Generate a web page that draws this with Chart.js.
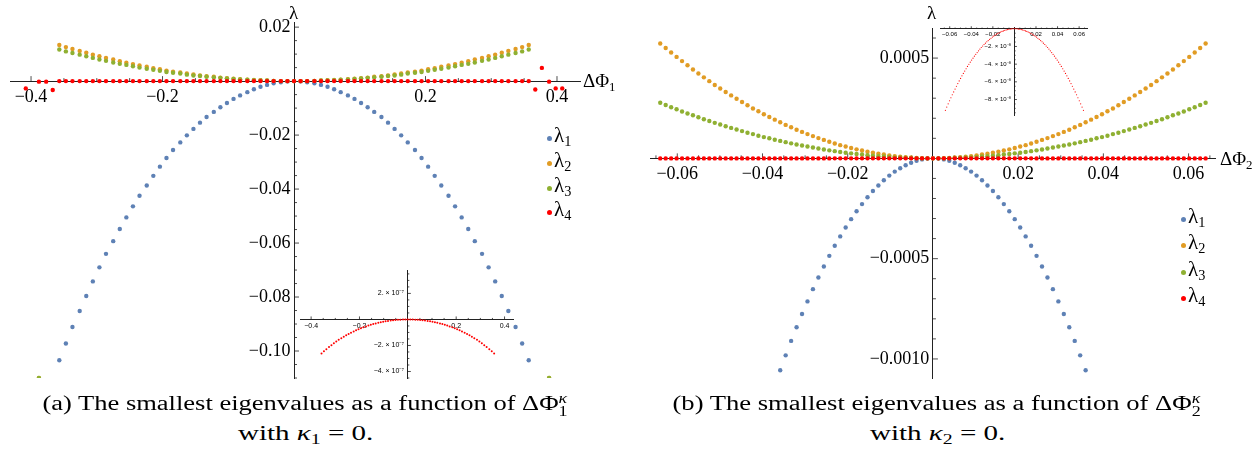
<!DOCTYPE html>
<html>
<head>
<meta charset="utf-8">
<script src="https://cdn.jsdelivr.net/npm/chart.js@4.4.1/dist/chart.umd.min.js"></script>
<style>
body { margin: 0; background: #fff; }
#wrap { position: relative; width: 1258px; height: 456px; overflow: hidden; font-family: "Liberation Serif", "Times New Roman", Times, "Nimbus Roman", Tinos, serif; color: #000; }
canvas { position: absolute; }
.lbl { position: absolute; font-size: 19px; line-height: 1; white-space: nowrap; }
.lbl sub, .leg sub, .cap sub { font-size: 0.68em; vertical-align: -0.3em; line-height: 0; }
.leg { position: absolute; font-size: 21px; line-height: 1; white-space: nowrap; }
.dot { position: absolute; width: 5px; height: 5px; border-radius: 50%; }
.cap { position: absolute; font-size: 20px; line-height: 1; white-space: nowrap; transform-origin: center; }
.ss { display: inline-block; vertical-align: -0.42em; font-size: 0.68em; line-height: 0.95; }
.ss span { display: block; }
</style>
</head>
<body>
<div id="wrap">
  <canvas id="cA" width="620" height="392" style="left:0;top:0"></canvas>
  <canvas id="cB" width="628" height="392" style="left:630px;top:0"></canvas>
  <canvas id="iA" width="270" height="130" style="left:260px;top:255px"></canvas>
  <canvas id="iB" width="200" height="110" style="left:900px;top:15px"></canvas>
  <div class="lbl" style="left:289px;top:3px">λ</div>
  <div class="lbl" style="left:583px;top:71px">ΔΦ<sub>1</sub></div>
  <div class="lbl" style="left:927px;top:3px">λ</div>
  <div class="lbl" style="left:1220px;top:149px">ΔΦ<sub>2</sub></div>
</div>
<script>
// eigenvalues, panel (a): step in ΔΦ1, from -0.408 to 0.408
const xA = [-0.408,-0.398,-0.388,-0.377,-0.367,-0.357,-0.347,-0.337,-0.326,-0.316,-0.306,-0.296,-0.286,-0.275,-0.265,-0.255,-0.245,-0.235,-0.224,-0.214,-0.204,-0.194,-0.184,-0.173,-0.163,-0.153,-0.143,-0.133,-0.122,-0.112,-0.102,-0.092,-0.082,-0.071,-0.061,-0.051,-0.041,-0.031,-0.020,-0.010,
  0,
  0.010,0.020,0.031,0.041,0.051,0.061,0.071,0.082,0.092,0.102,0.112,0.122,0.133,0.143,0.153,0.163,0.173,0.184,0.194,0.204,0.214,0.224,0.235,0.245,0.255,0.265,0.275,0.286,0.296,0.306,0.316,0.326,0.337,0.347,0.357,0.367,0.377,0.388,0.398,0.408];

const lam1A = [null,null,null,null,null,
  -0.1034,-0.0972,-0.0911,-0.0852,-0.0796,-0.0742,-0.0690,-0.0640,-0.0593,-0.0548,-0.0505,-0.0464,-0.0425,-0.0387,-0.0351,-0.0317,-0.0285,-0.0255,-0.0227,-0.0201,-0.0177,-0.0154,-0.0133,-0.0114,-0.0097,-0.0081,-0.0066,-0.0053,-0.0041,-0.0030,-0.0021,-0.0014,-0.0008,-0.0004,-0.0001,
  0,
  -0.0001,-0.0004,-0.0008,-0.0014,-0.0021,-0.0030,-0.0041,-0.0053,-0.0066,-0.0081,-0.0097,-0.0114,-0.0133,-0.0154,-0.0177,-0.0201,-0.0227,-0.0255,-0.0285,-0.0317,-0.0351,-0.0387,-0.0425,-0.0464,-0.0505,-0.0548,-0.0593,-0.0640,-0.0690,-0.0742,-0.0796,-0.0852,-0.0911,-0.0972,-0.1034,
  null,null,null,null,null];

const lam2A = [null,null,-0.110,null,null,
  0.0134,0.0126,0.0119,0.0112,0.0105,0.0098,0.0092,0.0086,0.0080,0.0074,0.0068,0.0063,0.0058,0.0053,0.0048,0.0044,0.0039,0.0035,0.0032,0.0028,0.0025,0.0021,0.0018,0.0016,0.0013,0.0011,0.0009,0.0007,0.0005,0.0004,0.0003,0.0002,0.0001,0,0,
  0,
  0,0,0.0001,0.0002,0.0003,0.0004,0.0005,0.0007,0.0009,0.0011,0.0013,0.0016,0.0018,0.0021,0.0025,0.0028,0.0032,0.0035,0.0039,0.0044,0.0048,0.0053,0.0058,0.0063,0.0068,0.0074,0.0080,0.0086,0.0092,0.0098,0.0105,0.0112,0.0119,0.0126,0.0134,
  null,null,-0.110,null,null];

const lam3A = [null,null,-0.110,null,null,
  0.0117,0.0110,0.0104,0.0098,0.0092,0.0086,0.0080,0.0075,0.0069,0.0064,0.0060,0.0055,0.0050,0.0046,0.0042,0.0038,0.0034,0.0031,0.0028,0.0024,0.0021,0.0019,0.0016,0.0014,0.0012,0.0010,0.0008,0.0006,0.0005,0.0003,0.0002,0.0002,0.0001,0,0,
  0,
  0,0,0.0001,0.0002,0.0002,0.0003,0.0005,0.0006,0.0008,0.0010,0.0012,0.0014,0.0016,0.0019,0.0021,0.0024,0.0028,0.0031,0.0034,0.0038,0.0042,0.0046,0.0050,0.0055,0.0060,0.0064,0.0069,0.0075,0.0080,0.0086,0.0092,0.0098,0.0104,0.0110,0.0117,
  null,null,-0.110,null,null];

const lam4A = [-0.0027,null,-0.0002,-0.0002,-0.0033,
  -2.62e-7,-2.447e-7,-2.282e-7,-2.125e-7,-1.976e-7,-1.833e-7,-1.697e-7,-1.568e-7,-1.446e-7,-1.329e-7,-1.219e-7,-1.115e-7,-1.016e-7,-9.23e-8,-8.35e-8,-7.52e-8,-6.74e-8,-6.02e-8,-5.33e-8,-4.70e-8,-4.11e-8,-3.56e-8,-3.06e-8,-2.59e-8,-2.17e-8,-1.79e-8,-1.44e-8,-1.14e-8,-8.7e-9,-6.4e-9,-4.4e-9,-2.8e-9,-1.6e-9,-7e-10,-2e-10,
  0,
  -2e-10,-7e-10,-1.6e-9,-2.8e-9,-4.4e-9,-6.4e-9,-8.7e-9,-1.14e-8,-1.44e-8,-1.79e-8,-2.17e-8,-2.59e-8,-3.06e-8,-3.56e-8,-4.11e-8,-4.70e-8,-5.33e-8,-6.02e-8,-6.74e-8,-7.52e-8,-8.35e-8,-9.23e-8,-1.016e-7,-1.115e-7,-1.219e-7,-1.329e-7,-1.446e-7,-1.568e-7,-1.697e-7,-1.833e-7,-1.976e-7,-2.125e-7,-2.282e-7,-2.447e-7,-2.62e-7,
  -0.0031,0.0049,-0.0002,-0.0027,-0.0027];

// eigenvalues, panel (b)
const xB = [-0.064,-0.06272,-0.06144,-0.06016,-0.05888,-0.0576,-0.05632,-0.05504,-0.05376,-0.05248,-0.0512,-0.04992,-0.04864,-0.04736,-0.04608,-0.0448,-0.04352,-0.04224,-0.04096,-0.03968,-0.0384,-0.03712,-0.03584,-0.03456,-0.03328,-0.032,-0.03072,-0.02944,-0.02816,-0.02688,-0.0256,-0.02432,-0.02304,-0.02176,-0.02048,-0.0192,-0.01792,-0.01664,-0.01536,-0.01408,-0.0128,-0.01152,-0.01024,-0.00896,-0.00768,-0.0064,-0.00512,-0.00384,-0.00256,-0.00128,
  0,
  0.00128,0.00256,0.00384,0.00512,0.0064,0.00768,0.00896,0.01024,0.01152,0.0128,0.01408,0.01536,0.01664,0.01792,0.0192,0.02048,0.02176,0.02304,0.02432,0.0256,0.02688,0.02816,0.02944,0.03072,0.032,0.03328,0.03456,0.03584,0.03712,0.0384,0.03968,0.04096,0.04224,0.04352,0.0448,0.04608,0.04736,0.04864,0.04992,0.0512,0.05248,0.05376,0.05504,0.05632,0.0576,0.05888,0.06016,0.06144,0.06272,0.064];

const lam1B = [null,null,null,null,null,null,null,null,null,null,null,
  null,null,null,null,null,null,null,null,null,null,null,
  -1.056e-3,-9.82e-4,-9.10e-4,-8.42e-4,-7.76e-4,-7.13e-4,-6.52e-4,-5.94e-4,-5.39e-4,-4.86e-4,-4.36e-4,-3.89e-4,-3.45e-4,-3.03e-4,-2.64e-4,-2.28e-4,-1.94e-4,-1.63e-4,-1.35e-4,-1.09e-4,-8.6e-5,-6.6e-5,-4.9e-5,-3.4e-5,-2.2e-5,-1.2e-5,-5e-6,-1e-6,
  0,
  -1e-6,-5e-6,-1.2e-5,-2.2e-5,-3.4e-5,-4.9e-5,-6.6e-5,-8.6e-5,-1.09e-4,-1.35e-4,-1.63e-4,-1.94e-4,-2.28e-4,-2.64e-4,-3.03e-4,-3.45e-4,-3.89e-4,-4.36e-4,-4.86e-4,-5.39e-4,-5.94e-4,-6.52e-4,-7.13e-4,-7.76e-4,-8.42e-4,-9.10e-4,-9.82e-4,-1.056e-3,
  null,null,null,null,null,null,null,null,null,null,null,
  null,null,null,null,null,null,null,null,null,null,null];

const lam2B = [5.73e-4,5.50e-4,5.28e-4,5.06e-4,4.85e-4,4.64e-4,4.43e-4,4.23e-4,4.04e-4,3.85e-4,3.66e-4,3.48e-4,3.31e-4,3.14e-4,2.97e-4,2.81e-4,2.65e-4,2.49e-4,2.35e-4,2.20e-4,2.06e-4,1.93e-4,1.80e-4,1.67e-4,1.55e-4,1.43e-4,1.32e-4,1.21e-4,1.11e-4,1.01e-4,9.2e-5,8.3e-5,7.4e-5,6.6e-5,5.9e-5,5.2e-5,4.5e-5,3.9e-5,3.3e-5,2.8e-5,2.3e-5,1.9e-5,1.5e-5,1.1e-5,8e-6,6e-6,4e-6,2e-6,1e-6,0,
  0,
  0,1e-6,2e-6,4e-6,6e-6,8e-6,1.1e-5,1.5e-5,1.9e-5,2.3e-5,2.8e-5,3.3e-5,3.9e-5,4.5e-5,5.2e-5,5.9e-5,6.6e-5,7.4e-5,8.3e-5,9.2e-5,1.01e-4,1.11e-4,1.21e-4,1.32e-4,1.43e-4,1.55e-4,1.67e-4,1.80e-4,1.93e-4,2.06e-4,2.20e-4,2.35e-4,2.49e-4,2.65e-4,2.81e-4,2.97e-4,3.14e-4,3.31e-4,3.48e-4,3.66e-4,3.85e-4,4.04e-4,4.23e-4,4.43e-4,4.64e-4,4.85e-4,5.06e-4,5.28e-4,5.50e-4,5.73e-4];

const lam3B = [2.77e-4,2.66e-4,2.55e-4,2.45e-4,2.34e-4,2.24e-4,2.15e-4,2.05e-4,1.95e-4,1.86e-4,1.77e-4,1.69e-4,1.60e-4,1.52e-4,1.44e-4,1.36e-4,1.28e-4,1.21e-4,1.13e-4,1.06e-4,1.00e-4,9.3e-5,8.7e-5,8.1e-5,7.5e-5,6.9e-5,6.4e-5,5.9e-5,5.4e-5,4.9e-5,4.4e-5,4.0e-5,3.6e-5,3.2e-5,2.8e-5,2.5e-5,2.2e-5,1.9e-5,1.6e-5,1.3e-5,1.1e-5,9e-6,7e-6,5e-6,4e-6,3e-6,2e-6,1e-6,0,0,
  0,
  0,0,1e-6,2e-6,3e-6,4e-6,5e-6,7e-6,9e-6,1.1e-5,1.3e-5,1.6e-5,1.9e-5,2.2e-5,2.5e-5,2.8e-5,3.2e-5,3.6e-5,4.0e-5,4.4e-5,4.9e-5,5.4e-5,5.9e-5,6.4e-5,6.9e-5,7.5e-5,8.1e-5,8.7e-5,9.3e-5,1.00e-4,1.06e-4,1.13e-4,1.21e-4,1.28e-4,1.36e-4,1.44e-4,1.52e-4,1.60e-4,1.69e-4,1.77e-4,1.86e-4,1.95e-4,2.05e-4,2.15e-4,2.24e-4,2.34e-4,2.45e-4,2.55e-4,2.66e-4,2.77e-4];

const lam4B = [-9.22e-8,-8.85e-8,-8.49e-8,-8.14e-8,-7.80e-8,-7.46e-8,-7.14e-8,-6.82e-8,-6.50e-8,-6.20e-8,-5.90e-8,-5.61e-8,-5.32e-8,-5.05e-8,-4.78e-8,-4.52e-8,-4.26e-8,-4.01e-8,-3.78e-8,-3.54e-8,-3.32e-8,-3.10e-8,-2.89e-8,-2.69e-8,-2.49e-8,-2.30e-8,-2.12e-8,-1.95e-8,-1.78e-8,-1.63e-8,-1.47e-8,-1.33e-8,-1.19e-8,-1.07e-8,-9.4e-9,-8.3e-9,-7.2e-9,-6.2e-9,-5.3e-9,-4.5e-9,-3.7e-9,-3.0e-9,-2.4e-9,-1.8e-9,-1.3e-9,-9e-10,-6e-10,-3e-10,-1e-10,0,
  0,
  0,-1e-10,-3e-10,-6e-10,-9e-10,-1.3e-9,-1.8e-9,-2.4e-9,-3.0e-9,-3.7e-9,-4.5e-9,-5.3e-9,-6.2e-9,-7.2e-9,-8.3e-9,-9.4e-9,-1.07e-8,-1.19e-8,-1.33e-8,-1.47e-8,-1.63e-8,-1.78e-8,-1.95e-8,-2.12e-8,-2.30e-8,-2.49e-8,-2.69e-8,-2.89e-8,-3.10e-8,-3.32e-8,-3.54e-8,-3.78e-8,-4.01e-8,-4.26e-8,-4.52e-8,-4.78e-8,-5.05e-8,-5.32e-8,-5.61e-8,-5.90e-8,-6.20e-8,-6.50e-8,-6.82e-8,-7.14e-8,-7.46e-8,-7.80e-8,-8.14e-8,-8.49e-8,-8.85e-8,-9.22e-8];

// tick positions and their labels
const xTickA = [-0.4, -0.2, 0.2, 0.4];
const xLabA = ['−0.4', '−0.2', '0.2', '0.4'];
const yTickA = [0.02, -0.02, -0.04, -0.06, -0.08, -0.1];
const yLabA = ['0.02', '−0.02', '−0.04', '−0.06', '−0.08', '−0.10'];
const xTickB = [-0.06, -0.04, -0.02, 0.02, 0.04, 0.06];
const xLabB = ['−0.06', '−0.04', '−0.02', '0.02', '0.04', '0.06'];
const yTickB = [0.0005, -0.0005, -0.001];
const yLabB = ['0.0005', '−0.0005', '−0.0010'];
const yTickIA = [2e-7, -2e-7, -4e-7];
const yLabIA = ['2. × 10⁻⁷', '−2. × 10⁻⁷', '−4. × 10⁻⁷'];
const yTickIB = [-2e-8, -4e-8, -6e-8, -8e-8];
const yLabIB = ['−2. × 10⁻⁸', '−4. × 10⁻⁸', '−6. × 10⁻⁸', '−8. × 10⁻⁸'];

const colors = ['#5E81B5', '#E19C24', '#8FB032', '#FF0000'];
const seriesNames = ['1', '2', '3', '4'];

const wrap = document.getElementById('wrap');
const serifStack = "'Liberation Serif', 'Times New Roman', Times, 'Nimbus Roman', Tinos, serif";

// Mathematica style ticks, pointing into the plot
const tickMarks = {
  id: 'tickMarks',
  beforeDatasetsDraw(chart, args, opts) {
    const {ctx} = chart;
    const sx = chart.scales.x, sy = chart.scales.y;
    const x0 = sx.getPixelForValue(0), y0 = sy.getPixelForValue(0);
    ctx.save();
    ctx.strokeStyle = '#222';
    ctx.lineWidth = 0.8;
    ctx.beginPath();
    for (const t of sx.ticks) {
      const px = sx.getPixelForValue(t.value);
      ctx.moveTo(px, y0);
      ctx.lineTo(px, y0 - (t.major ? opts.major : opts.minor));
    }
    for (const t of sy.ticks) {
      const py = sy.getPixelForValue(t.value);
      ctx.moveTo(x0, py);
      ctx.lineTo(x0 + (t.major ? opts.major : opts.minor), py);
    }
    ctx.stroke();
    ctx.restore();
  }
};

function axis(min, max, pos, majors, labels, minorStep, font, pad, tail) {
  return {
    type: 'linear', min: min, max: max, position: pos,
    grid: {display: false, drawTicks: false},
    border: {color: '#222', width: 1},
    ticks: {
      autoSkip: false, maxRotation: 0, padding: pad, color: '#000', font: font,
      callback: v => {
        const i = majors.indexOf(v);
        return i < 0 ? '' : labels[i] + tail;
      }
    },
    afterBuildTicks: s => {
      const t = majors.map(v => ({value: v, major: true}));
      for (let n = Math.ceil(min / minorStep); n * minorStep <= max; n++) {
        const v = n * minorStep;
        if (n === 0 || majors.some(m => Math.abs(m - v) < minorStep / 2)) continue;
        t.push({value: v});
      }
      t.sort((a, b) => a.value - b.value);
      s.ticks = t;
    }
  };
}

function points(xs, ys) {
  const out = [];
  xs.forEach((x, i) => { if (ys[i] !== null) out.push({x: x, y: ys[i]}); });
  return out;
}

function makeChart(id, xs, series, cols, radius, padding, xAxis, yAxis, tl) {
  return new Chart(document.getElementById(id), {
    type: 'scatter',
    data: {
      datasets: series.map((ys, i) => ({
        data: points(xs, ys),
        pointBackgroundColor: cols[i],
        pointBorderWidth: 0,
        pointRadius: radius,
        order: series.length - i
      }))
    },
    options: {
      responsive: false, animation: false, events: [],
      layout: {padding: padding},
      plugins: {legend: {display: false}, tooltip: {enabled: false}, tickMarks: tl},
      scales: {x: xAxis, y: yAxis}
    },
    plugins: [tickMarks]
  });
}

const mainFont = {family: serifStack, size: 18};
const tail = '\u2009';

makeChart('cA', xA, [lam1A, lam2A, lam3A, lam4A], colors, 2.2,
  {left: 10, top: 22, right: 40, bottom: 14},
  axis(-0.432, 0.435, {y: 0}, xTickA, xLabA, 0.05, mainFont, 5, ''),
  axis(-0.110, 0.0219, {x: 0}, yTickA, yLabA, 0.005, mainFont, 0, tail),
  {major: 5, minor: 3});

makeChart('cB', xB, [lam1B, lam2B, lam3B, lam4B], colors, 2.2,
  {left: 20, top: 28, right: 43, bottom: 14},
  axis(-0.0664, 0.0662, {y: 0}, xTickB, xLabB, 0.005, mainFont, 5, ''),
  axis(-0.001095, 0.00065, {x: 0}, yTickB, yLabB, 0.0001, mainFont, 0, tail),
  {major: 5, minor: 3});

makeChart('iA', xA, [lam4A], [colors[3]], 1.0,
  {left: 40, top: 15, right: 17, bottom: 7},
  axis(-0.446, 0.435, {y: 0}, xTickA, xLabA, 0.05, {family: 'Liberation Sans, Arial, sans-serif', size: 7}, 2, ''),
  axis(-4.5e-7, 3.8e-7, {x: 0}, yTickIA, yLabIA, 5e-8, {family: 'Liberation Sans, Arial, sans-serif', size: 7}, 0, '  '),
  {major: 3, minor: 1.5});

makeChart('iB', xB, [lam4B], [colors[3]], 0.6,
  {left: 40, top: 12, right: 13, bottom: 10},
  axis(-0.069, 0.0673, {y: 0}, xTickB, xLabB, 0.005, {family: 'Liberation Sans, Arial, sans-serif', size: 6}, 1.5, ''),
  axis(-9.75e-8, 2e-9, {x: 0}, yTickIB, yLabIB, 5e-9, {family: 'Liberation Sans, Arial, sans-serif', size: 6}, 0, '  '),
  {major: 2.5, minor: 1.2});

// legends
const legendPos = [
  {x: 549, ys: [138, 163, 188, 212]},
  {x: 1183, ys: [219, 245, 272, 298]}
];
for (const lp of legendPos) {
  seriesNames.forEach((n, i) => {
    const d = document.createElement('div');
    d.className = 'dot';
    d.style.left = (lp.x - 2.5) + 'px';
    d.style.top = (lp.ys[i] - 2.5) + 'px';
    d.style.background = colors[i];
    wrap.appendChild(d);
    const t = document.createElement('div');
    t.className = 'leg';
    t.style.left = (lp.x + 5) + 'px';
    t.style.top = (lp.ys[i] - 13) + 'px';
    t.innerHTML = 'λ<sub>' + n + '</sub>';
    wrap.appendChild(t);
  });
}

// captions
const captions = [
  {html: '(a) The smallest eigenvalues as a function of ΔΦ<span class="ss"><span><i>κ</i></span><span>1</span></span>', cx: 305, top: 393, w: 525},
  {html: 'with <i>κ</i><sub>1</sub> = 0.', cx: 305, top: 423, w: 135},
  {html: '(b) The smallest eigenvalues as a function of ΔΦ<span class="ss"><span><i>κ</i></span><span>2</span></span>', cx: 936, top: 393, w: 528},
  {html: 'with <i>κ</i><sub>2</sub> = 0.', cx: 937, top: 423, w: 135}
];
for (const c of captions) {
  const d = document.createElement('div');
  d.className = 'cap';
  d.innerHTML = c.html;
  wrap.appendChild(d);
  const w0 = d.offsetWidth;
  d.style.left = (c.cx - w0 / 2) + 'px';
  d.style.top = c.top + 'px';
  d.style.transform = 'scaleX(' + (c.w / w0).toFixed(3) + ')';
}
</script>
</body>
</html>
